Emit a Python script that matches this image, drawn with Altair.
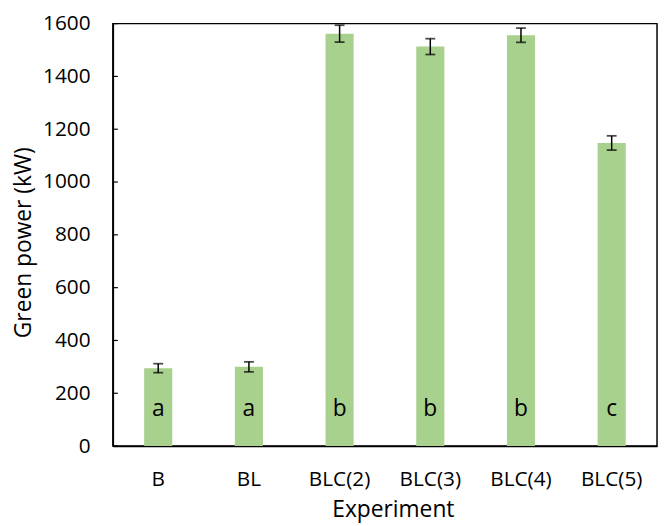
import altair as alt
import pandas as pd

experiments = ["B", "BL", "BLC(2)", "BLC(3)", "BLC(4)", "BLC(5)"]
power = [295, 300, 1562, 1513, 1556, 1148]
err = [17, 19, 32, 30, 27, 27]
letters = ["a", "a", "b", "b", "b", "c"]
y_ticks = [0, 200, 400, 600, 800, 1000, 1200, 1400, 1600]

df = pd.DataFrame({
    "Experiment": experiments,
    "power": power,
    "lo": [p - e for p, e in zip(power, err)],
    "hi": [p + e for p, e in zip(power, err)],
    "letter": letters,
})
ticks_df = pd.DataFrame({"t": y_ticks})

FONT = "Open Sans"
xscale = alt.Scale(paddingInner=0.69, paddingOuter=0.345)
x = alt.X("Experiment:N", sort=experiments, scale=xscale,
          axis=alt.Axis(title="Experiment", labelAngle=0, ticks=False,
                        labelPadding=23, titlePadding=9, titleX=283))
yscale = alt.Scale(domain=[0, 1600], nice=False)
yaxis = alt.Axis(title="Green power (kW)", values=y_ticks, ticks=False, grid=False,
                 format="d", labelPadding=23, titlePadding=7, titleY=221)

base = alt.Chart(df)
bars = base.mark_bar(color="#A9D18E").encode(
    x=x, y=alt.Y("power:Q", scale=yscale, axis=yaxis))
rule = base.mark_rule(color="#000", strokeWidth=1.5).encode(
    x=x, y=alt.Y("lo:Q", scale=yscale, axis=yaxis), y2="hi:Q")
cap_lo = base.mark_tick(color="#000", size=10, thickness=1.8).encode(
    x=x, y=alt.Y("lo:Q", scale=yscale, axis=yaxis))
cap_hi = base.mark_tick(color="#000", size=10, thickness=1.8).encode(
    x=x, y=alt.Y("hi:Q", scale=yscale, axis=yaxis))
text = base.mark_text(font=FONT, fontSize=23, color="#000", baseline="middle").encode(
    x=x, y=alt.datum(140), text="letter:N")
yt = alt.Chart(ticks_df).mark_rule(color="#000", strokeWidth=1.2).encode(
    y=alt.Y("t:Q", scale=yscale, axis=yaxis), x=alt.value(0), x2=alt.value(5))

chart = alt.layer(bars, rule, cap_lo, cap_hi, text, yt).properties(
    width=550, height=427,
    autosize=alt.AutoSizeParams(type="none"),
    padding={"left": 106, "top": 13, "right": 2, "bottom": 78},
).configure_view(stroke="#000", strokeWidth=1.5).configure_axis(
    labelFont=FONT, labelFontSize=21, labelColor="#000",
    titleFont=FONT, titleFontSize=23, titleFontWeight="normal", titleColor="#000",
    domainColor="#000", domainWidth=1.5,
)

chart.save("out.html", embed_options={"renderer": "svg", "actions": False})
